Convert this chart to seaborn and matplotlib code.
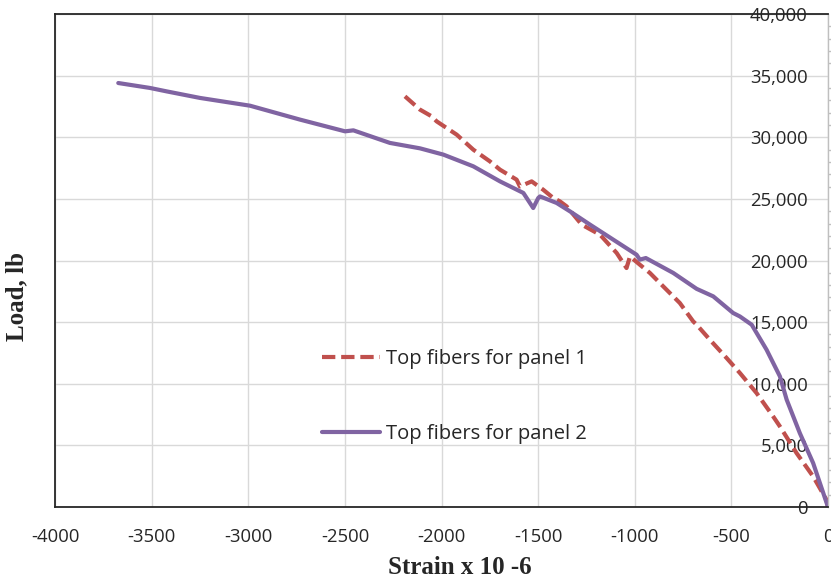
import numpy as np
import pandas as pd
import matplotlib
matplotlib.use('Agg')
import matplotlib.pyplot as plt
import matplotlib.ticker as mticker
import seaborn as sns

# Strain (x 10^-6) and load (lb)
strain_p1 = [-2190, -2112, -2052, -2026, -1922, -1836, -1750, -1698, -1612, -1595,
             -1534, -1474, -1422, -1388, -1353, -1275, -1180, -1094, -1043, -1025,
             -974, -922, -853, -767, -698, -680, -612, -525, -456, -370,
             -284, -249, -163, -77, -8, 0]
load_p1 = [33320, 32240, 31700, 31290, 30210, 28990, 28040, 27370, 26560, 26010,
           26420, 25740, 25070, 24800, 24390, 22910, 22090, 20610, 19390, 20330,
           19660, 18990, 17900, 16550, 15060, 14790, 13580, 12090, 10870, 9250,
           7350, 6540, 4380, 2480, 590, 0]

strain_p2 = [-3674, -3510, -3423, -3251, -2992, -2733, -2500, -2457, -2268, -2112,
             -1991, -1836, -1698, -1577, -1526, -1500, -1491, -1405, -1336, -1232,
             -991, -974, -943, -801, -680, -594, -491, -456, -395, -318,
             -249, -214, -146, -77, 0]
load_p2 = [34400, 34000, 33720, 33190, 32560, 31430, 30480, 30560, 29540, 29100,
           28590, 27640, 26420, 25480, 24260, 25070, 25200, 24670, 23990, 22910,
           20470, 20070, 20200, 18990, 17700, 17090, 15740, 15460, 14790, 12760,
           10600, 8710, 6000, 3570, 0]

labels = ['Top fibers for panel 1', 'Top fibers for panel 2']
red = '#C0504D'
purple = '#8064A2'

sns.set_theme(style='white')
plt.rcParams['font.family'] = ['Open Sans', 'DejaVu Sans']
plt.rcParams['axes.unicode_minus'] = False

fig = plt.figure(figsize=(8.31, 5.82), dpi=100)
ax = fig.add_axes([55.3 / 831, 75 / 582, 772.7 / 831, 493 / 582])

df1 = pd.DataFrame({'strain': strain_p1, 'load': load_p1})
df2 = pd.DataFrame({'strain': strain_p2, 'load': load_p2})

sns.lineplot(data=df1, x='strain', y='load', ax=ax, sort=False, estimator=None,
             color=red, lw=3, linestyle=(0, (3.2, 1.4)), label=labels[0])
sns.lineplot(data=df2, x='strain', y='load', ax=ax, sort=False, estimator=None,
             color=purple, lw=3, label=labels[1])

ax.set_xlim(-4000, 0)
ax.set_ylim(0, 40000)
ax.set_xticks(np.arange(-4000, 1, 500))
ax.set_yticks(np.arange(0, 40001, 5000))
ax.yaxis.set_minor_locator(mticker.MultipleLocator(1000))
ax.yaxis.set_major_formatter(mticker.FuncFormatter(lambda v, p: f'{v:,.0f}'))
ax.grid(True, which='major', color='#D9D9D9', lw=1)

# y axis sits at x = 0 (right side), labels left of it
ax.yaxis.tick_right()
ax.tick_params(axis='y', which='major', length=0, pad=-14.5, labelsize=13.3,
               labelcolor='#262626')
ax.tick_params(axis='y', which='minor', right=True, length=3, color='#BFBFBF', width=1)
for t in ax.get_yticklabels():
    t.set_horizontalalignment('right')
ax.tick_params(axis='x', length=0, pad=15, labelsize=13.3, labelcolor='#262626')

for side in ['left', 'bottom', 'top']:
    ax.spines[side].set_color('#262626')
    ax.spines[side].set_linewidth(1.3)
ax.spines['right'].set_color('#BFBFBF')
ax.spines['right'].set_linewidth(1)

ax.set_xlabel('Strain x 10 -6', fontfamily='Liberation Serif', fontweight='bold', fontsize=18)
ax.set_ylabel('Load, lb', fontfamily='Liberation Serif', fontweight='bold', fontsize=18)
ax.xaxis.set_label_coords(0.524, -0.1)
ax.yaxis.set_label_position('left')
ax.yaxis.set_label_coords(-0.035, 0.426)

ax.legend(loc='upper left', bbox_to_anchor=(0.345, 0.32), frameon=False,
          fontsize=14.5, handlelength=2.9, handletextpad=0.3, labelspacing=2.73,
          borderpad=0, borderaxespad=0)

fig.savefig('out.png', dpi=100)
